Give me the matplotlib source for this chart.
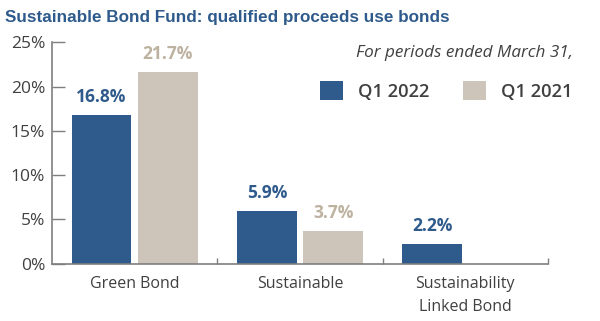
import matplotlib.pyplot as plt
import numpy as np

categories = ["Green Bond", "Sustainable", "Sustainability\nLinked Bond"]
q1_2022 = [16.8, 5.9, 2.2]
q1_2021 = [21.7, 3.7, None]
series_names = ["Q1 2022", "Q1 2021"]
yticks = [0, 5, 10, 15, 20, 25]

BLUE = "#2E5A8C"
BEIGE = "#CDC5B9"
BEIGE_TXT = "#BDB19F"
GRAY = "#404040"
AXIS = "#7F7F7F"

plt.rcParams["font.family"] = ["Open Sans", "DejaVu Sans"]

fig = plt.figure(figsize=(6.0, 3.21), dpi=100)
ax = fig.add_axes([0.0867, 0.179, 0.8266, 0.689])

x = np.arange(len(categories))
w = 0.36
off = 0.2

b1 = ax.bar(x - off, q1_2022, w, color=BLUE, label=series_names[0])
vals21 = [v if v is not None else 0 for v in q1_2021]
b2 = ax.bar(x + off, vals21, w, color=BEIGE, label=series_names[1])

# value labels above bars
for xi, v in zip(x, q1_2022):
    ax.text(xi - off, v + 1.0, f"{v}%", ha="center", va="bottom",
            color=BLUE, fontsize=12.5, fontweight="bold")
for xi, v in zip(x, q1_2021):
    if v is not None:
        ax.text(xi + off, v + 1.0, f"{v}%", ha="center", va="bottom",
                color=BEIGE_TXT, fontsize=12.5, fontweight="bold")

ax.set_xlim(-0.5, 2.5)
ax.set_ylim(0, 25)
ax.set_yticks(yticks)
ax.set_yticklabels([f"{t}%" for t in yticks], color=GRAY, fontsize=12.5)
ax.tick_params(axis="y", direction="in", length=9.5, width=1, color=AXIS, pad=5)

# boundary ticks on x, category names as minor ticks
ax.set_xticks([0.5, 1.5, 2.5])
ax.set_xticklabels([])
ax.tick_params(axis="x", which="major", direction="in", length=4, width=1, color=AXIS)
ax.set_xticks(x, minor=True)
ax.set_xticklabels(categories, minor=True, color=GRAY, fontsize=11.5, linespacing=1.55)
ax.tick_params(axis="x", which="minor", length=0, pad=9)

for s in ["top", "right"]:
    ax.spines[s].set_visible(False)
for s in ["left", "bottom"]:
    ax.spines[s].set_color(AXIS)
    ax.spines[s].set_linewidth(1.2)

fig.text(0.008, 0.945, "Sustainable Bond Fund: qualified proceeds use bonds",
         family=["Liberation Sans", "DejaVu Sans"],
         fontsize=12.3, fontweight="bold", color=BLUE, va="center", ha="left")

fig.text(0.955, 0.835, "For periods ended March 31,", ha="right", va="center",
         color=GRAY, fontsize=12.3, style="italic")

leg = ax.legend(handles=[b1, b2], loc="center right", bbox_to_anchor=(1.05, 0.78),
                ncol=2, frameon=False, fontsize=13.2, handlelength=1.25, handleheight=1.25,
                handletextpad=0.85, columnspacing=1.8, borderaxespad=0, borderpad=0)
for t in leg.get_texts():
    t.set_color(GRAY)
    t.set_fontweight("semibold")

fig.savefig("out.png", dpi=100, facecolor="white")
